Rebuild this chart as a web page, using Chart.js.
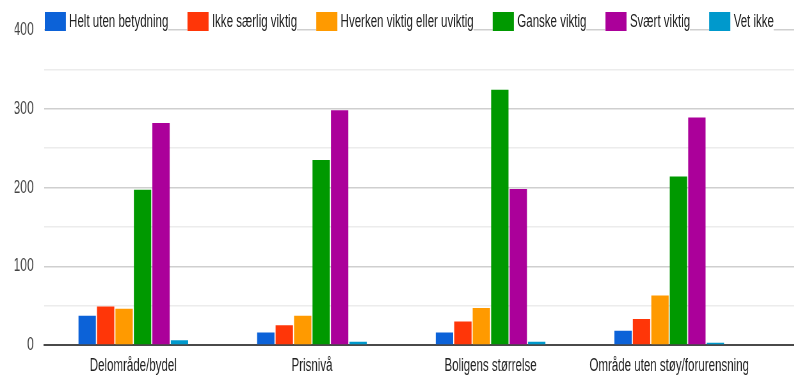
<!DOCTYPE html>
<html>
<head>
<meta charset="utf-8">
<script src="https://cdn.jsdelivr.net/npm/chart.js@4"></script>
<style>
    html, body { margin: 0; padding: 0; overflow: hidden; background: #fff; }
    /* 参考图整体横向压缩，这里按同样比例缩放画布和图例 */
    #wrap { position: relative; width: 1241px; height: 376px; transform: scaleX(0.64); transform-origin: 0 0; }
    #prefChart { position: absolute; left: 0; top: 0; }
    #legend { position: absolute; left: 70px; top: 11.5px; display: flex; gap: 30px;
              font: 18px "Liberation Sans", Arial, sans-serif; color: #222; }
    .lg-item { display: flex; align-items: center; height: 19px; background: #fff; white-space: nowrap; }
    .lg-box { width: 33px; height: 19px; margin-right: 5px; }
</style>
</head>
<body>
<div id="wrap">
    <canvas id="prefChart" width="1241" height="376"></canvas>
    <div id="legend"></div>
</div>
<script>
// ========== 数据 ==========
const categories = ['Delområde/bydel', 'Prisnivå', 'Boligens størrelse', 'Område uten støy/forurensning'];
const seriesNames = ['Helt uten betydning', 'Ikke særlig viktig', 'Hverken viktig eller uviktig', 'Ganske viktig', 'Svært viktig', 'Vet ikke'];
const heltUten    = [37, 16, 16, 18];
const ikkeSaerlig = [49, 25, 30, 33];
const hverken     = [46, 37, 47, 63];
const ganske      = [197, 235, 324, 214];
const svaert      = [282, 298, 198, 289];
const vetIkke     = [6, 4, 4, 3];
const yTicks = [0, 100, 200, 300, 400];

const seriesColors = ['#0c62d8', '#ff3608', '#ff9a00', '#009900', '#ab009a', '#0099cc'];
const allSeries = [heltUten, ikkeSaerlig, hverken, ganske, svaert, vetIkke];

// x 轴用 linear 刻度，右侧留出和原图一样的空白
function toPoints(arr) {
    return arr.map((v, i) => ({ x: i, y: v }));
}

// ========== 图例（压在 400 网格线上） ==========
function buildLegend() {
    const box = document.getElementById('legend');
    seriesNames.forEach((name, i) => {
        const item = document.createElement('div');
        item.className = 'lg-item';
        const sw = document.createElement('span');
        sw.className = 'lg-box';
        sw.style.background = seriesColors[i];
        item.appendChild(sw);
        item.appendChild(document.createTextNode(name));
        box.appendChild(item);
    });
}

Chart.defaults.font.family = '"Liberation Sans", Arial, sans-serif';
Chart.defaults.font.size = 18;

new Chart(document.getElementById('prefChart').getContext('2d'), {
    type: 'bar',
    data: {
        datasets: allSeries.map((arr, i) => ({
            label: seriesNames[i],
            data: toPoints(arr),
            backgroundColor: seriesColors[i],
            borderWidth: 0,
            barPercentage: 0.94,
            categoryPercentage: 0.62
        }))
    },
    options: {
        responsive: false,
        animation: false,
        layout: { padding: { top: 30, left: 22.75, right: 0, bottom: 1 } },
        scales: {
            x: {
                type: 'linear',
                min: -0.5,
                max: 3.7,
                bounds: 'data',
                offset: false,
                // 每个类别一个刻度
                afterBuildTicks: s => { s.ticks = categories.map((c, i) => ({ value: i })); },
                afterFit: s => { s.height = 30; },
                grid: { display: false, drawTicks: false },
                border: { display: true, color: '#4a4a4a', width: 2 },
                ticks: {
                    autoSkip: false,
                    maxRotation: 0,
                    minRotation: 0,
                    padding: 10,
                    color: '#222',
                    callback: v => Number.isInteger(v) ? categories[v] : ''
                }
            },
            y: {
                min: 0,
                max: 400,
                afterFit: s => { s.width = 46; },
                border: { display: false },
                grid: {
                    drawTicks: false,
                    lineWidth: 1.5,
                    color: c => c.tick && c.tick.value % 100 === 0 ? '#cfcfcf' : '#ececec'
                },
                ticks: {
                    stepSize: 50,
                    padding: 16,
                    color: '#444',
                    font: { size: 19 },
                    callback: v => yTicks.includes(v) ? v : ''
                }
            }
        },
        plugins: {
            legend: { display: false },
            tooltip: { enabled: false }
        }
    }
});

buildLegend();
</script>
</body>
</html>
